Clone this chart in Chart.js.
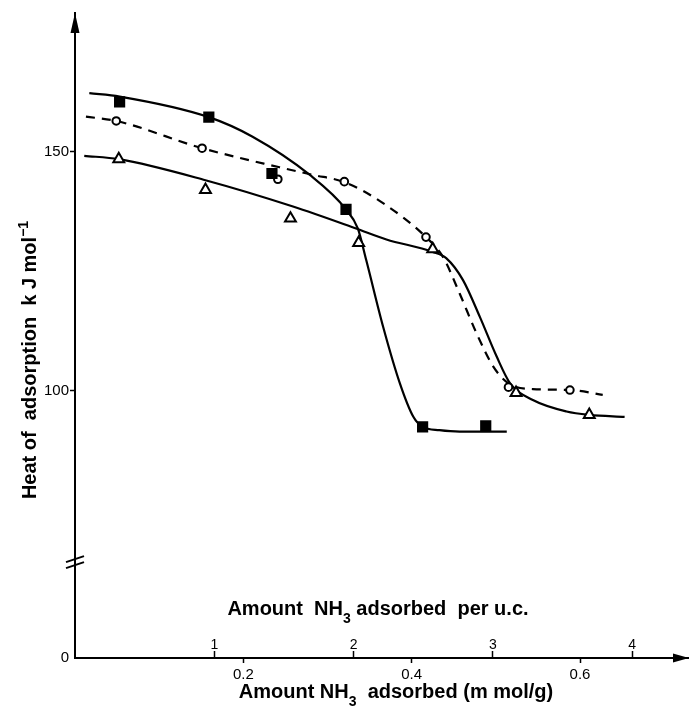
<!DOCTYPE html>
<html>
<head>
<meta charset="utf-8">
<script src="https://cdn.jsdelivr.net/npm/chart.js@4.4.1/dist/chart.umd.min.js"></script>
<style>
  html, body { margin: 0; padding: 0; background: #fff; }
  #wrap { width: 689px; height: 714px; }
</style>
</head>
<body>
<div id="wrap"><canvas id="chart" width="689" height="714"></canvas></div>
<script>
// --- data (x in mmol/g, y in kJ/mol) ---
const squareX = [0.053, 0.159, 0.234, 0.322, 0.413, 0.488];
const squareY = [160.5, 157.3, 145.5, 138.0, 92.5, 92.7];
const circleX = [0.049, 0.151, 0.241, 0.320, 0.417, 0.515, 0.588];
const circleY = [156.5, 150.8, 144.3, 143.8, 132.2, 100.8, 100.2];
const triangleX = [0.052, 0.155, 0.256, 0.337, 0.425, 0.524, 0.611];
const triangleY = [148.5, 142.1, 136.1, 131.0, 129.7, 99.6, 95.0];

// hand-drawn curves through the points
const squareCurveX = [0.017, 0.053, 0.159, 0.211, 0.279, 0.322, 0.336, 0.346, 0.366, 0.386, 0.402, 0.413, 0.433, 0.457, 0.513];
const squareCurveY = [162.3, 161.6, 157.3, 153.2, 145.2, 138.0, 134.0, 127.4, 113.5, 101.6, 94.6, 92.5, 91.8, 91.5, 91.5];
const circleCurveX = [0.013, 0.049, 0.151, 0.243, 0.283, 0.320, 0.366, 0.417, 0.437, 0.457, 0.477, 0.497, 0.515, 0.544, 0.589, 0.627];
const circleCurveY = [157.4, 156.5, 150.8, 146.8, 145.2, 143.7, 139.3, 132.2, 128.1, 120.4, 112.1, 105.1, 101.6, 100.4, 100.2, 99.2];
const triangleCurveX = [0.011, 0.052, 0.155, 0.259, 0.334, 0.370, 0.425, 0.441, 0.461, 0.481, 0.501, 0.517, 0.544, 0.584, 0.611, 0.653];
const triangleCurveY = [149.2, 148.5, 144.1, 138.6, 134.0, 131.7, 129.1, 127.8, 123.2, 115.5, 107.2, 101.6, 98.1, 95.7, 95.0, 94.6];

const xTicks = [0.2, 0.4, 0.6];
const ucTicks = [1, 2, 3, 4];
const yTicks = [0, 100, 150];

const MMOL_PER_UC = 0.1655;
const X_MAX = 0.7295;
// broken y axis: 0 is drawn at the foot, well below the 100-150 range
const Y_MIN = 44.14, Y_MAX = 179.08, Y_BREAK = 64.2;
const toAxis = v => (v === 0 ? Y_MIN : v);

const FONT = "'Liberation Sans', Arial, Helvetica, sans-serif";

function pts(xs, ys) {
    return xs.map((x, i) => ({ x: x, y: ys[i] }));
}

function curve(xs, ys, dash) {
    return {
        data: pts(xs, ys),
        showLine: true,
        borderColor: '#000',
        borderWidth: 2.2,
        borderDash: dash || [],
        pointRadius: 0,
        cubicInterpolationMode: 'monotone',
        fill: false,
        order: 2
    };
}

function markers(xs, ys, style, radius, fillColor) {
    return {
        data: pts(xs, ys),
        showLine: false,
        pointStyle: style,
        pointRadius: radius,
        pointBorderWidth: 2,
        pointBorderColor: '#000',
        pointBackgroundColor: fillColor,
        order: 1
    };
}

// no label overhang padding, so the plot area spans the whole canvas width
function noPad(s) {
    s.paddingLeft = 0;
    s.paddingRight = 0;
}

// text with sub/superscripts: parts = [[text, 0 normal | 1 sub | 2 sup], ...]
function drawParts(ctx, parts, x, y, size) {
    const fontOf = k => 'bold ' + (k ? Math.round(size * 0.72) : size) + 'px ' + FONT;
    let total = 0;
    parts.forEach(p => { ctx.font = fontOf(p[1]); total += ctx.measureText(p[0]).width; });
    let cx = x - total / 2;
    ctx.textAlign = 'left';
    ctx.textBaseline = 'alphabetic';
    parts.forEach(p => {
        ctx.font = fontOf(p[1]);
        const dy = p[1] === 1 ? size * 0.38 : (p[1] === 2 ? -size * 0.42 : 0);
        ctx.fillText(p[0], cx, y + dy);
        cx += ctx.measureText(p[0]).width;
    });
}

const decorations = {
    id: 'decorations',
    afterDraw(chart) {
        const ctx = chart.ctx;
        const area = chart.chartArea;
        const yScale = chart.scales.y;
        const ax = area.left;
        ctx.save();
        ctx.fillStyle = '#000';
        ctx.strokeStyle = '#000';

        // arrow heads
        ctx.beginPath();
        ctx.moveTo(ax, area.top);
        ctx.lineTo(ax - 4.5, area.top + 20);
        ctx.lineTo(ax + 4.5, area.top + 20);
        ctx.closePath();
        ctx.fill();
        ctx.beginPath();
        ctx.moveTo(area.right, area.bottom);
        ctx.lineTo(area.right - 16, area.bottom - 4.5);
        ctx.lineTo(area.right - 16, area.bottom + 4.5);
        ctx.closePath();
        ctx.fill();

        // axis break
        const yb = yScale.getPixelForValue(Y_BREAK);
        ctx.lineWidth = 2;
        [-3, 3].forEach(off => {
            ctx.beginPath();
            ctx.moveTo(ax - 9, yb + off + 3);
            ctx.lineTo(ax + 9, yb + off - 3);
            ctx.stroke();
        });

        // titles
        drawParts(ctx, [['Amount  NH', 0], ['3', 1], [' adsorbed  per u.c.', 0]], 378, 615, 20);
        drawParts(ctx, [['Amount NH', 0], ['3', 1], ['  adsorbed (m mol/g)', 0]], 396, 698, 20);

        ctx.translate(36, 360);
        ctx.rotate(-Math.PI / 2);
        drawParts(ctx, [['Heat of  adsorption  k J mol', 0], ['\u22121', 2]], 0, 0, 20);
        ctx.restore();
    }
};

const tickFont = { family: FONT, size: 15 };

new Chart(document.getElementById('chart'), {
    type: 'scatter',
    data: {
        datasets: [
            curve(squareCurveX, squareCurveY),
            curve(circleCurveX, circleCurveY, [9, 7]),
            curve(triangleCurveX, triangleCurveY),
            markers(squareX, squareY, 'rect', 6.5, '#000'),
            markers(circleX, circleY, 'circle', 3.8, '#fff'),
            markers(triangleX, triangleY, 'triangle', 6.3, '#fff')
        ]
    },
    options: {
        responsive: false,
        animation: false,
        layout: { autoPadding: false, padding: { top: 13, right: 0, left: 0, bottom: 0 } },
        plugins: {
            legend: { display: false },
            tooltip: { enabled: false }
        },
        scales: {
            x: {
                type: 'linear',
                position: 'bottom',
                min: 0,
                max: X_MAX,
                afterFit: s => { s.height = 56; noPad(s); },
                afterBuildTicks: s => { s.ticks = xTicks.map(v => ({ value: v })); },
                border: { display: true, color: '#000', width: 2 },
                grid: { drawOnChartArea: false, drawTicks: true, tickLength: 5, tickWidth: 1.5, tickColor: '#000' },
                ticks: {
                    color: '#000', font: tickFont, padding: 3, maxRotation: 0, autoSkip: false,
                    callback: v => v.toFixed(1)
                }
            },
            x2: {
                type: 'linear',
                position: { y: Y_MIN },
                min: 0,
                max: X_MAX / MMOL_PER_UC,
                afterFit: noPad,
                afterBuildTicks: s => { s.ticks = ucTicks.map(v => ({ value: v })); },
                border: { display: false },
                grid: { drawOnChartArea: false, drawTicks: true, tickLength: -7, tickWidth: 1.5, tickColor: '#000' },
                ticks: {
                    color: '#000', font: { family: FONT, size: 14 }, padding: -14, maxRotation: 0, autoSkip: false,
                    callback: v => String(v)
                }
            },
            y: {
                type: 'linear',
                min: Y_MIN,
                max: Y_MAX,
                afterFit: s => { s.width = 75; noPad(s); s.paddingTop = 0; },
                afterBuildTicks: s => { s.ticks = yTicks.map(v => ({ value: toAxis(v) })); },
                border: { display: true, color: '#000', width: 2 },
                grid: {
                    drawOnChartArea: false, drawTicks: true, tickLength: 5, tickWidth: 1.5,
                    tickColor: c => (c.tick && c.tick.value === Y_MIN ? 'rgba(0,0,0,0)' : '#000')
                },
                ticks: {
                    color: '#000', font: tickFont, padding: 1,
                    callback: v => (v === Y_MIN ? '0' : String(v))
                }
            }
        }
    },
    plugins: [decorations]
});
</script>
</body>
</html>
